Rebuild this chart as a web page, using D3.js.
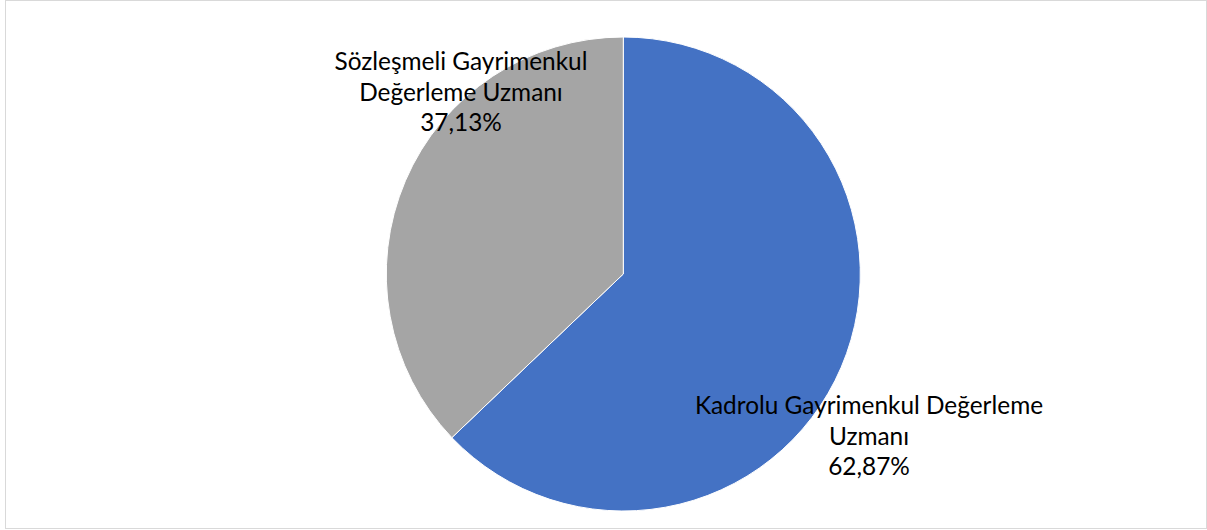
<!DOCTYPE html>
<html>
<head>
<meta charset="utf-8">
<script src="https://cdn.jsdelivr.net/npm/d3@7"></script>
<style>
  html, body { margin: 0; padding: 0; background: #ffffff; }
  svg { display: block; }
  text { font-family: Lato, "Open Sans", sans-serif; fill: #000; }
</style>
</head>
<body>
<svg id="chart" width="1207" height="530"></svg>
<script>
const categories = ["Kadrolu Gayrimenkul Değerleme Uzmanı", "Sözleşmeli Gayrimenkul Değerleme Uzmanı"];
const values = [62.87, 37.13];
const valueLabels = ["62,87%", "37,13%"];
const labelLines = [
  ["Kadrolu Gayrimenkul Değerleme", "Uzmanı", "62,87%"],
  ["Sözleşmeli Gayrimenkul", "Değerleme Uzmanı", "37,13%"]
];
const colors = ["#4472C4", "#A5A5A5"];

const svg = d3.select("#chart");
svg.append("rect")
  .attr("x", 5.5).attr("y", 0.5)
  .attr("width", 1201).attr("height", 528)
  .attr("fill", "#fff").attr("stroke", "#d9d9d9").attr("stroke-width", 1);

const cx = 623.3, cy = 274, r = 237;
const pie = d3.pie().sort(null).value(d => d)(values);
const arc = d3.arc().innerRadius(0).outerRadius(r);

const g = svg.append("g").attr("transform", `translate(${cx},${cy})`);
g.selectAll("path").data(pie).enter().append("path")
  .attr("d", arc)
  .attr("fill", (d, i) => colors[i])
  .attr("stroke", "#fff").attr("stroke-width", 1);

const labelPos = [
  { x: 869, y: 414 },
  { x: 461, y: 70 }
];
const lineH = 30.5;
labelLines.forEach((lines, i) => {
  const t = svg.append("text")
    .attr("text-anchor", "middle")
    .attr("font-size", 24.4);
  lines.forEach((ln, j) => {
    t.append("tspan").attr("x", labelPos[i].x).attr("y", labelPos[i].y + j * lineH).text(ln);
  });
});
</script>
</body>
</html>
